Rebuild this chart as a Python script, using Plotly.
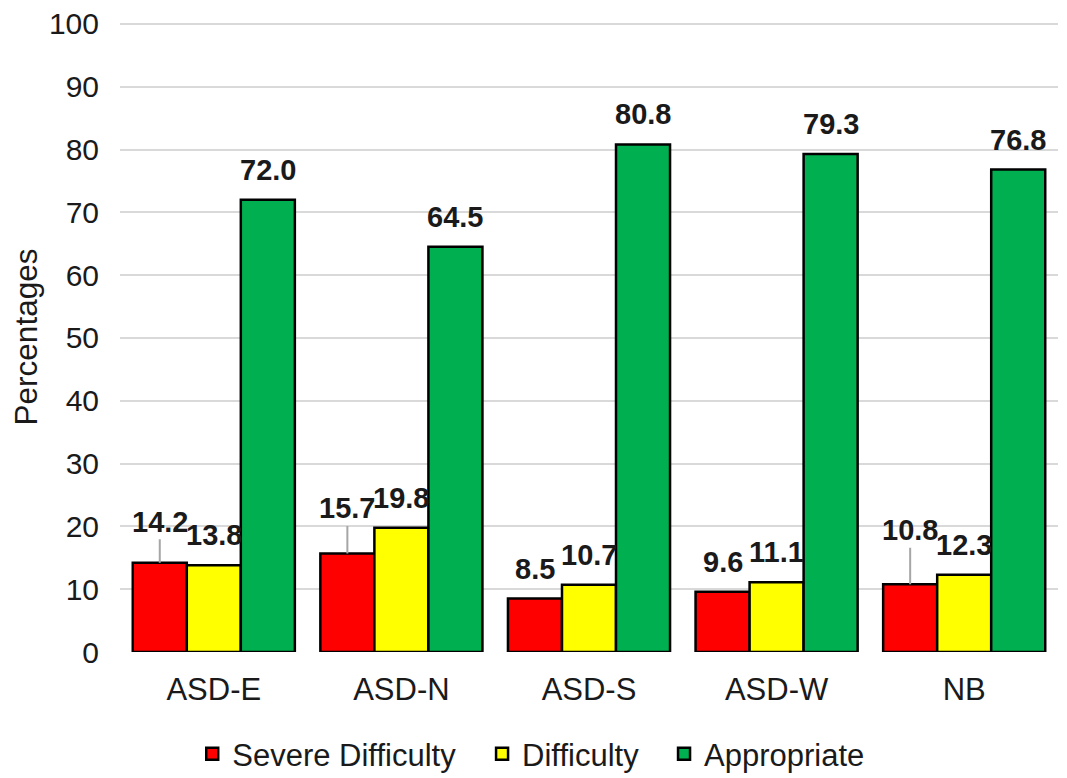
import plotly.graph_objects as go

categories = ["ASD-E", "ASD-N", "ASD-S", "ASD-W", "NB"]
severe = [14.2, 15.7, 8.5, 9.6, 10.8]
difficulty = [13.8, 19.8, 10.7, 11.1, 12.3]
appropriate = [72.0, 64.5, 80.8, 79.3, 76.8]
series_names = ["Severe Difficulty", "Difficulty", "Appropriate"]
colors = ["#ff0000", "#ffff00", "#00b050"]
# label leader-line offsets (pixels) for severe difficulty labels; None = normal label
severe_leader = [-41, -45, None, None, -54]

FONT = "Liberation Sans, Arial, sans-serif"
BARGAP = 0.136
legend_ids = ["legend", "legend2", "legend3"]
legend_x = [0.077, 0.386, 0.580]

fig = go.Figure()
for name, vals, col, lg in zip(series_names, [severe, difficulty, appropriate], colors, legend_ids):
    fig.add_trace(go.Bar(
        x=categories, y=vals, name=name, legend=lg, showlegend=True,
        marker=dict(color=col, line=dict(color="black", width=2.5)),
    ))

w = (1 - BARGAP) / 3
annotations = []
for s_idx, vals in enumerate([severe, difficulty, appropriate]):
    offset = (s_idx - 1) * w
    for i, v in enumerate(vals):
        txt = f"{v:.1f}"
        if s_idx == 0 and severe_leader[i] is not None:
            annotations.append(dict(
                x=i + offset, y=v, xref="x", yref="y", text=txt,
                showarrow=True, ax=0, ay=severe_leader[i], arrowhead=0,
                arrowwidth=2, arrowcolor="#a6a6a6", standoff=0,
                font=dict(family=FONT, size=29, color="#1a1a1a", weight="bold"),
            ))
        else:
            annotations.append(dict(
                x=i + offset, y=v, xref="x", yref="y", text=txt,
                showarrow=False, yanchor="middle", yshift=30,
                font=dict(family=FONT, size=29, color="#1a1a1a", weight="bold"),
            ))

legend_common = dict(
    orientation="h", xanchor="left", y=-0.162, yanchor="middle",
    font=dict(family=FONT, size=31, color="#1a1a1a"),
    itemclick=False, bgcolor="rgba(0,0,0,0)", visible=True,
)

fig.update_layout(
    width=1059, height=770,
    showlegend=True,
    margin=dict(l=112, r=9, t=14, b=126, autoexpand=False),
    paper_bgcolor="white", plot_bgcolor="white",
    barmode="group", bargap=BARGAP, bargroupgap=0,
    font=dict(family=FONT, size=31, color="#1a1a1a"),
    annotations=annotations,
    legend=dict(x=legend_x[0], **legend_common),
    legend2=dict(x=legend_x[1], **legend_common),
    legend3=dict(x=legend_x[2], **legend_common),
    xaxis=dict(
        type="category", showgrid=False, showline=False, ticks="",
        tickfont=dict(size=31), ticklabelstandoff=16, automargin=False,
    ),
    yaxis=dict(
        range=[0, 100.3], tickvals=list(range(0, 101, 10)), showgrid=True,
        gridcolor="#d9d9d9", gridwidth=2,
        zeroline=False, showline=False, ticks="", tickfont=dict(size=30),
        ticklabelstandoff=20, automargin=False, ticklabeloverflow="allow",
        title=dict(text="Percentages", font=dict(size=31.5), standoff=30),
    ),
)

fig.write_html("out.html")
